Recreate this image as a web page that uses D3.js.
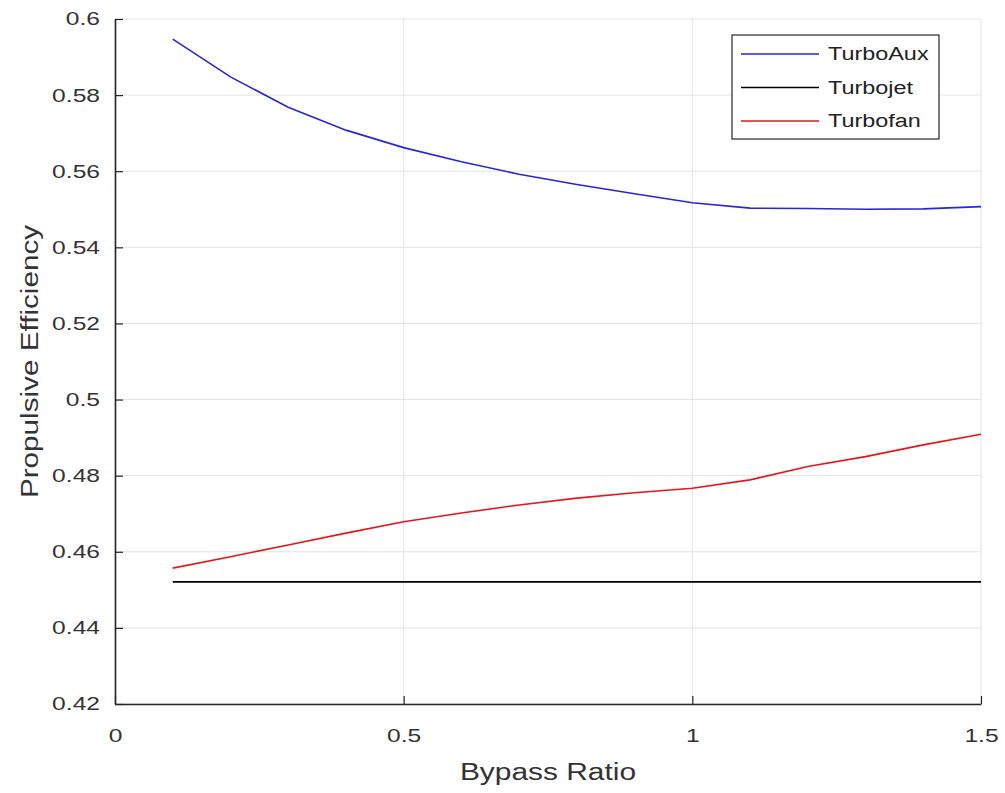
<!DOCTYPE html>
<html>
<head>
<meta charset="utf-8">
<script src="https://cdn.jsdelivr.net/npm/d3@7"></script>
<style>
  body { margin: 0; background: #fff; }
  svg { font-family: "Liberation Sans", Arial, sans-serif; }
</style>
</head>
<body>
<div id="chart"></div>
<script>
'use strict';

// bypass ratio samples
var bypassRatio = [0.1, 0.2, 0.3, 0.4, 0.5, 0.6, 0.7, 0.8, 0.9, 1.0, 1.1, 1.2, 1.3, 1.4, 1.5];

var turboAux = [0.5947, 0.5848, 0.5768, 0.5708, 0.5662, 0.5625, 0.5592, 0.5565, 0.5541,
  0.5517, 0.5503, 0.5502, 0.5500, 0.5501, 0.5507];
var turbojet = [0.4521, 0.4521, 0.4521, 0.4521, 0.4521, 0.4521, 0.4521, 0.4521, 0.4521,
  0.4521, 0.4521, 0.4521, 0.4521, 0.4521, 0.4521];
var turbofan = [0.4557, 0.4587, 0.4618, 0.4649, 0.4679, 0.4702, 0.4723, 0.4741, 0.4755,
  0.4767, 0.4789, 0.4824, 0.4850, 0.4881, 0.4909];

var seriesNames = ['TurboAux', 'Turbojet', 'Turbofan'];
var seriesColors = ['#2626dc', '#000000', '#e8141c'];

var xTicks = [0, 0.5, 1, 1.5];
var yTicks = [0.42, 0.44, 0.46, 0.48, 0.5, 0.52, 0.54, 0.56, 0.58, 0.6];

var width = 1005, height = 793;
var margin = { left: 115, top: 19, right: 24, bottom: 89 };
var innerWidth = width - margin.left - margin.right;
var innerHeight = height - margin.top - margin.bottom;

// the text in the picture is drawn wider than the plain font
function widen(sel, k) {
  sel.each(function() {
    var w = this.getComputedTextLength();
    d3.select(this)
      .attr('textLength', w * k)
      .attr('lengthAdjust', 'spacingAndGlyphs');
  });
}

var root = d3.select('#chart').append('svg')
  .attr('width', width)
  .attr('height', height);

var chart = root.append('g')
  .attr('transform', 'translate(' + margin.left + ',' + margin.top + ')');

var xData = d3.scaleLinear().domain([0, 1.5]).range([0, innerWidth]);
var yData = d3.scaleLinear().domain([0.42, 0.6]).range([innerHeight, 0]);

// grid
chart.selectAll('line.xgrid')
  .data(xTicks)
  .enter()
  .append('line')
  .attr('class', 'xgrid')
  .attr('x1', function(d) { return xData(d); })
  .attr('x2', function(d) { return xData(d); })
  .attr('y1', 0)
  .attr('y2', innerHeight)
  .attr('stroke', '#e3e3e3')
  .attr('stroke-width', 1);

chart.selectAll('line.ygrid')
  .data(yTicks)
  .enter()
  .append('line')
  .attr('class', 'ygrid')
  .attr('x1', 0)
  .attr('x2', innerWidth)
  .attr('y1', function(d) { return yData(d); })
  .attr('y2', function(d) { return yData(d); })
  .attr('stroke', '#e3e3e3')
  .attr('stroke-width', 1);

// axes, ticks pointing inwards like matlab
var xAxis = d3.axisBottom(xData)
  .tickValues(xTicks)
  .tickSizeInner(-8)
  .tickSizeOuter(0)
  .tickPadding(25)
  .tickFormat(function(d) { return d3.format('')(d); });

var yAxis = d3.axisLeft(yData)
  .tickValues(yTicks)
  .tickSizeInner(-8)
  .tickSizeOuter(0)
  .tickPadding(15)
  .tickFormat(function(d) { return String(+d.toFixed(2)); });

var gx = chart.append('g')
  .attr('transform', 'translate(0,' + innerHeight + ')')
  .call(xAxis);

var gy = chart.append('g').call(yAxis);

[gx, gy].forEach(function(g) {
  g.select('.domain').attr('stroke', '#262626').attr('stroke-width', 1.6);
  g.selectAll('.tick line').attr('stroke', '#262626').attr('stroke-width', 1.2);
  g.selectAll('.tick text')
    .attr('fill', '#333')
    .style('font-size', '18.5px')
    .style('font-family', '"Liberation Sans", Arial, sans-serif')
    .call(widen, 1.33);
});

// lines
var line = d3.line()
  .x(function(d) { return xData(d.x); })
  .y(function(d) { return yData(d.y); });

var allSeries = [turboAux, turbojet, turbofan].map(function(vals, i) {
  return {
    name: seriesNames[i],
    color: seriesColors[i],
    points: vals.map(function(v, j) { return { x: bypassRatio[j], y: v }; })
  };
});

chart.selectAll('path.series')
  .data(allSeries)
  .enter()
  .append('path')
  .attr('class', 'series')
  .attr('fill', 'none')
  .attr('stroke', function(d) { return d.color; })
  .attr('stroke-width', 1.6)
  .attr('d', function(d) { return line(d.points); });

// axis labels
root.append('text')
  .attr('x', margin.left + innerWidth / 2)
  .attr('y', 780)
  .attr('text-anchor', 'middle')
  .attr('fill', '#333')
  .style('font-size', '23px')
  .text('Bypass Ratio')
  .call(widen, 1.3);

root.append('text')
  .attr('transform', 'translate(38,' + (margin.top + innerHeight / 2) + ') rotate(-90)')
  .attr('text-anchor', 'middle')
  .attr('fill', '#333')
  .style('font-size', '23px')
  .text('Propulsive Efficiency')
  .call(widen, 1.29);

// legend
var legend = root.append('g').attr('transform', 'translate(732,35)');
legend.append('rect')
  .attr('width', 207)
  .attr('height', 104)
  .attr('fill', '#fff')
  .attr('stroke', '#262626')
  .attr('stroke-width', 1.2);

var items = legend.selectAll('g.item')
  .data(allSeries)
  .enter()
  .append('g')
  .attr('class', 'item')
  .attr('transform', function(d, i) { return 'translate(0,' + (19 + i * 33.5) + ')'; });

items.append('line')
  .attr('x1', 9)
  .attr('x2', 87)
  .attr('stroke', function(d) { return d.color; })
  .attr('stroke-width', 1.6);

items.append('text')
  .attr('x', 96)
  .attr('dy', '0.35em')
  .attr('fill', '#222')
  .style('font-size', '18px')
  .text(function(d) { return d.name; })
  .call(widen, 1.3);
</script>
</body>
</html>
